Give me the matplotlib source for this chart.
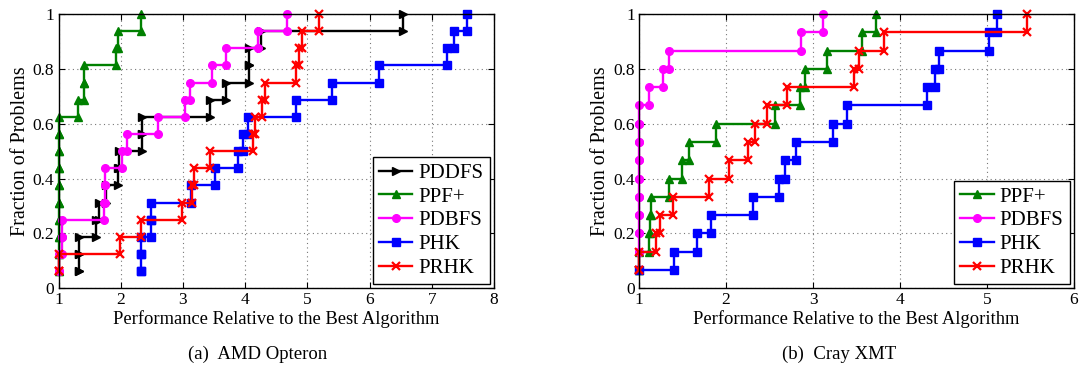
import numpy as np
import matplotlib.pyplot as plt

plt.rcParams['font.family'] = ['Liberation Serif', 'DejaVu Serif']

# performance ratios (one per problem)
opteron_n = 16
opteron_pddfs = [1.325, 1.325, 1.325, 1.61, 1.645, 1.76, 1.95, 1.98,
                 2.35, 2.35, 3.435, 3.69, 4.06, 4.07, 4.25, 6.54]
opteron_ppf = [1, 1, 1, 1, 1, 1, 1, 1, 1, 1, 1.31, 1.415, 1.415, 1.92, 1.96, 2.33]
opteron_pdbfs = [1, 1, 1.05, 1.06, 1.73, 1.74, 1.75, 2.015,
                 2.095, 2.605, 3.03, 3.11, 3.46, 3.70, 4.20, 4.68]
opteron_phk = [2.33, 2.33, 2.33, 2.48, 2.48, 3.13, 3.52, 3.88,
               3.97, 4.05, 4.82, 5.39, 6.15, 7.24, 7.35, 7.57]
opteron_prhk = [1, 1, 1.99, 2.33, 2.98, 3.14, 3.17, 3.44,
                4.13, 4.16, 4.27, 4.32, 4.82, 4.86, 4.91, 5.18]

xmt_n = 15
xmt_ppf = [1, 1, 1.12, 1.13, 1.14, 1.35, 1.49, 1.57, 1.89, 2.56, 2.85, 2.91, 3.16, 3.56, 3.72]
xmt_pdbfs = [1, 1, 1, 1, 1, 1, 1, 1, 1, 1, 1.12, 1.28, 1.34, 2.86, 3.11]
xmt_phk = [1, 1.406, 1.667, 1.83, 2.31, 2.61, 2.68, 2.81, 3.23, 3.39, 4.31, 4.40, 4.45, 5.02, 5.12]
xmt_prhk = [1, 1, 1.195, 1.24, 1.39, 1.80, 2.03, 2.25, 2.335, 2.47, 2.705, 3.47, 3.53, 3.82, 5.455]

styles = {
    "PDDFS": ("k", ">"),
    "PPF+": ("#008000", "^"),
    "PDBFS": ("#ff00ff", "o"),
    "PHK": ("#0000ff", "s"),
    "PRHK": ("#ff0000", "x"),
}


def profile_steps(ratios, n_problems):
    # MATLAB-style stairs vertices: (r1,1/n) (r2,1/n) (r2,2/n) ...
    r = np.sort(np.asarray(ratios, dtype=float))
    frac = np.arange(1, len(r) + 1) / n_problems
    return np.repeat(r, 2)[1:], np.repeat(frac, 2)[:-1]


def draw_panel(ax, series, n_problems, xmax):
    for name, ratios in series:
        color, marker = styles[name]
        xs, ys = profile_steps(ratios, n_problems)
        ax.plot(xs, ys, color=color, marker=marker, lw=1.7, ms=5.5,
                mew=1.6 if marker == "x" else 1.0, label=name, clip_on=False)
    ax.set_xlim(1, xmax)
    ax.set_ylim(0, 1)
    ax.set_xticks(range(1, xmax + 1))
    ax.set_yticks([0, 0.2, 0.4, 0.6, 0.8, 1.0])
    ax.set_yticklabels(["0", "0.2", "0.4", "0.6", "0.8", "1"])
    ax.grid(True, linestyle=(0, (1, 3)), color="#777777", lw=0.8)
    ax.tick_params(direction="in", top=True, right=True, length=4,
                   labelsize=12.5, pad=3)
    for sp in ax.spines.values():
        sp.set_linewidth(1.0)
    ax.set_xlabel("Performance Relative to the Best Algorithm", fontsize=13.3, labelpad=1)
    ax.set_ylabel("Fraction of Problems", fontsize=14.5, labelpad=2)
    leg = ax.legend(loc="lower right", fontsize=15, frameon=True, fancybox=False,
                    edgecolor="k", framealpha=1, borderaxespad=0.2,
                    labelspacing=0.2, handlelength=1.6, handletextpad=0.3,
                    borderpad=0.3)
    leg.get_frame().set_linewidth(1.0)


fig = plt.figure(figsize=(10.82, 3.68), dpi=100)
ax1 = fig.add_axes([58.5 / 1082, 1 - 288.3 / 368, 435.5 / 1082, 274.3 / 368])
ax2 = fig.add_axes([639 / 1082, 1 - 288.3 / 368, 435 / 1082, 274.3 / 368])

draw_panel(ax1, [("PDDFS", opteron_pddfs), ("PPF+", opteron_ppf),
                 ("PDBFS", opteron_pdbfs), ("PHK", opteron_phk),
                 ("PRHK", opteron_prhk)], opteron_n, 8)
draw_panel(ax2, [("PPF+", xmt_ppf), ("PDBFS", xmt_pdbfs),
                 ("PHK", xmt_phk), ("PRHK", xmt_prhk)], xmt_n, 6)

fig.text(258 / 1082, 1 - 354 / 368, "(a)  AMD Opteron", ha="center", va="center", fontsize=13.5)
fig.text(839 / 1082, 1 - 354 / 368, "(b)  Cray XMT", ha="center", va="center", fontsize=13.5)

fig.savefig("out.png", dpi=100)
